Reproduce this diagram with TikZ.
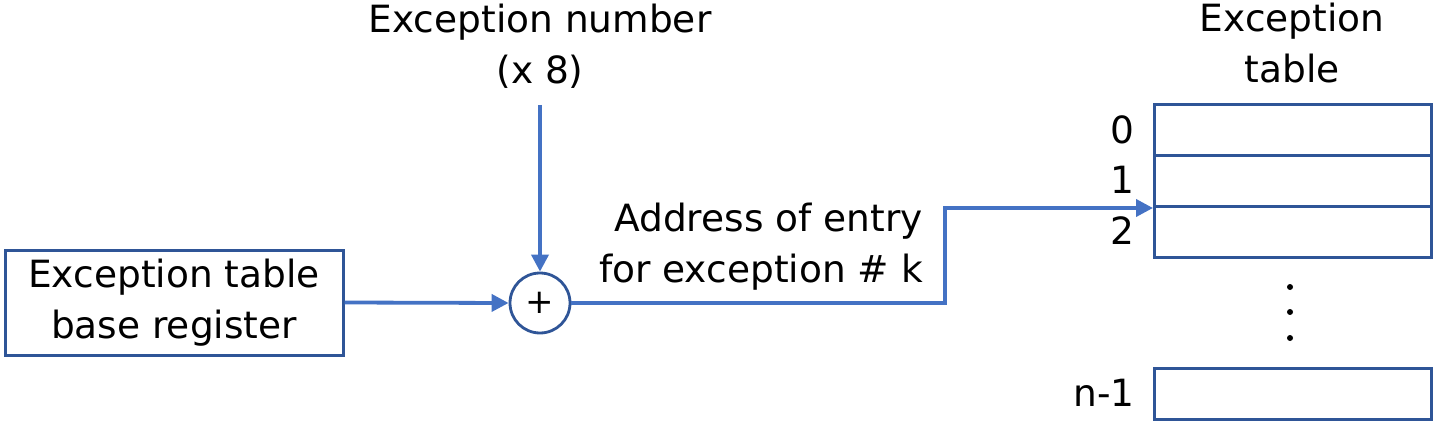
\documentclass[tikz,border=0pt]{standalone}
\usepackage{fontspec}
\setmainfont{DejaVu Sans}
\usetikzlibrary{arrows.meta}
\definecolor{boxblue}{HTML}{2F5597}
\definecolor{linkblue}{HTML}{4472C4}
\tikzset{
  txt/.style={font=\fontsize{37.5}{51}\selectfont, inner sep=0pt, align=center},
  regbox/.style={draw=boxblue, line width=3pt, fill=white},
  conn/.style={draw=linkblue, line width=3.8pt, -{Triangle[length=17pt,width=17pt]}},
  dotmark/.style={fill=black, circle, inner sep=0pt, minimum size=6pt},
}
\begin{document}
\begin{tikzpicture}[x=1pt,y=-1pt]
\useasboundingbox (0,0) rectangle (1434,422);
% left register box
\node[regbox, minimum width=338pt, minimum height=105pt, txt] (reg) at (174,302.5) {Exception table\\base register};
% adder
\node[draw=boxblue, line width=2.8pt, circle, minimum size=60pt, inner sep=0pt, font=\fontsize{34}{34}\selectfont] (add) at (540,303) {+};
% exception number label
\node[txt] (excnum) at (540,46) {Exception number\\(x 8)};
\coordinate (excnumend) at (540,105);
% table
\node[regbox, minimum width=277pt, minimum height=51pt, anchor=north west] (r0) at (1153,103) {};
\node[regbox, minimum width=277pt, minimum height=51pt, anchor=north west] (r1) at (1153,154) {};
\node[regbox, minimum width=277pt, minimum height=51pt, anchor=north west] (r2) at (1153,205) {};
\node[regbox, minimum width=277pt, minimum height=51pt, anchor=north west] (rn) at (1153,367) {};
\node[txt] (tabtitle) at (1292,43) {Exception\\table};
\node[txt, anchor=east] (l0) at (1135,130) {0};
\node[txt, anchor=east] (l1) at (1135,180) {1};
\node[txt, anchor=east] (l2) at (1135,231) {2};
\node[txt, anchor=east] (ln) at (1135,393) {n-1};
\node[dotmark] (d1) at (1290,287) {};
\node[dotmark] (d2) at (1290,312) {};
\node[dotmark] (d3) at (1290,338) {};
% address label
\node[txt, align=right, anchor=east] (addr) at (923,247) {Address of entry\\for exception \# k};
% connectors
\draw[conn] (excnumend) -- (add.north);
\draw[conn] (reg.east) -- (add.west);
\draw[conn] (add.east) -- (945,303) |- (r1.south west);
\end{tikzpicture}
\end{document}
